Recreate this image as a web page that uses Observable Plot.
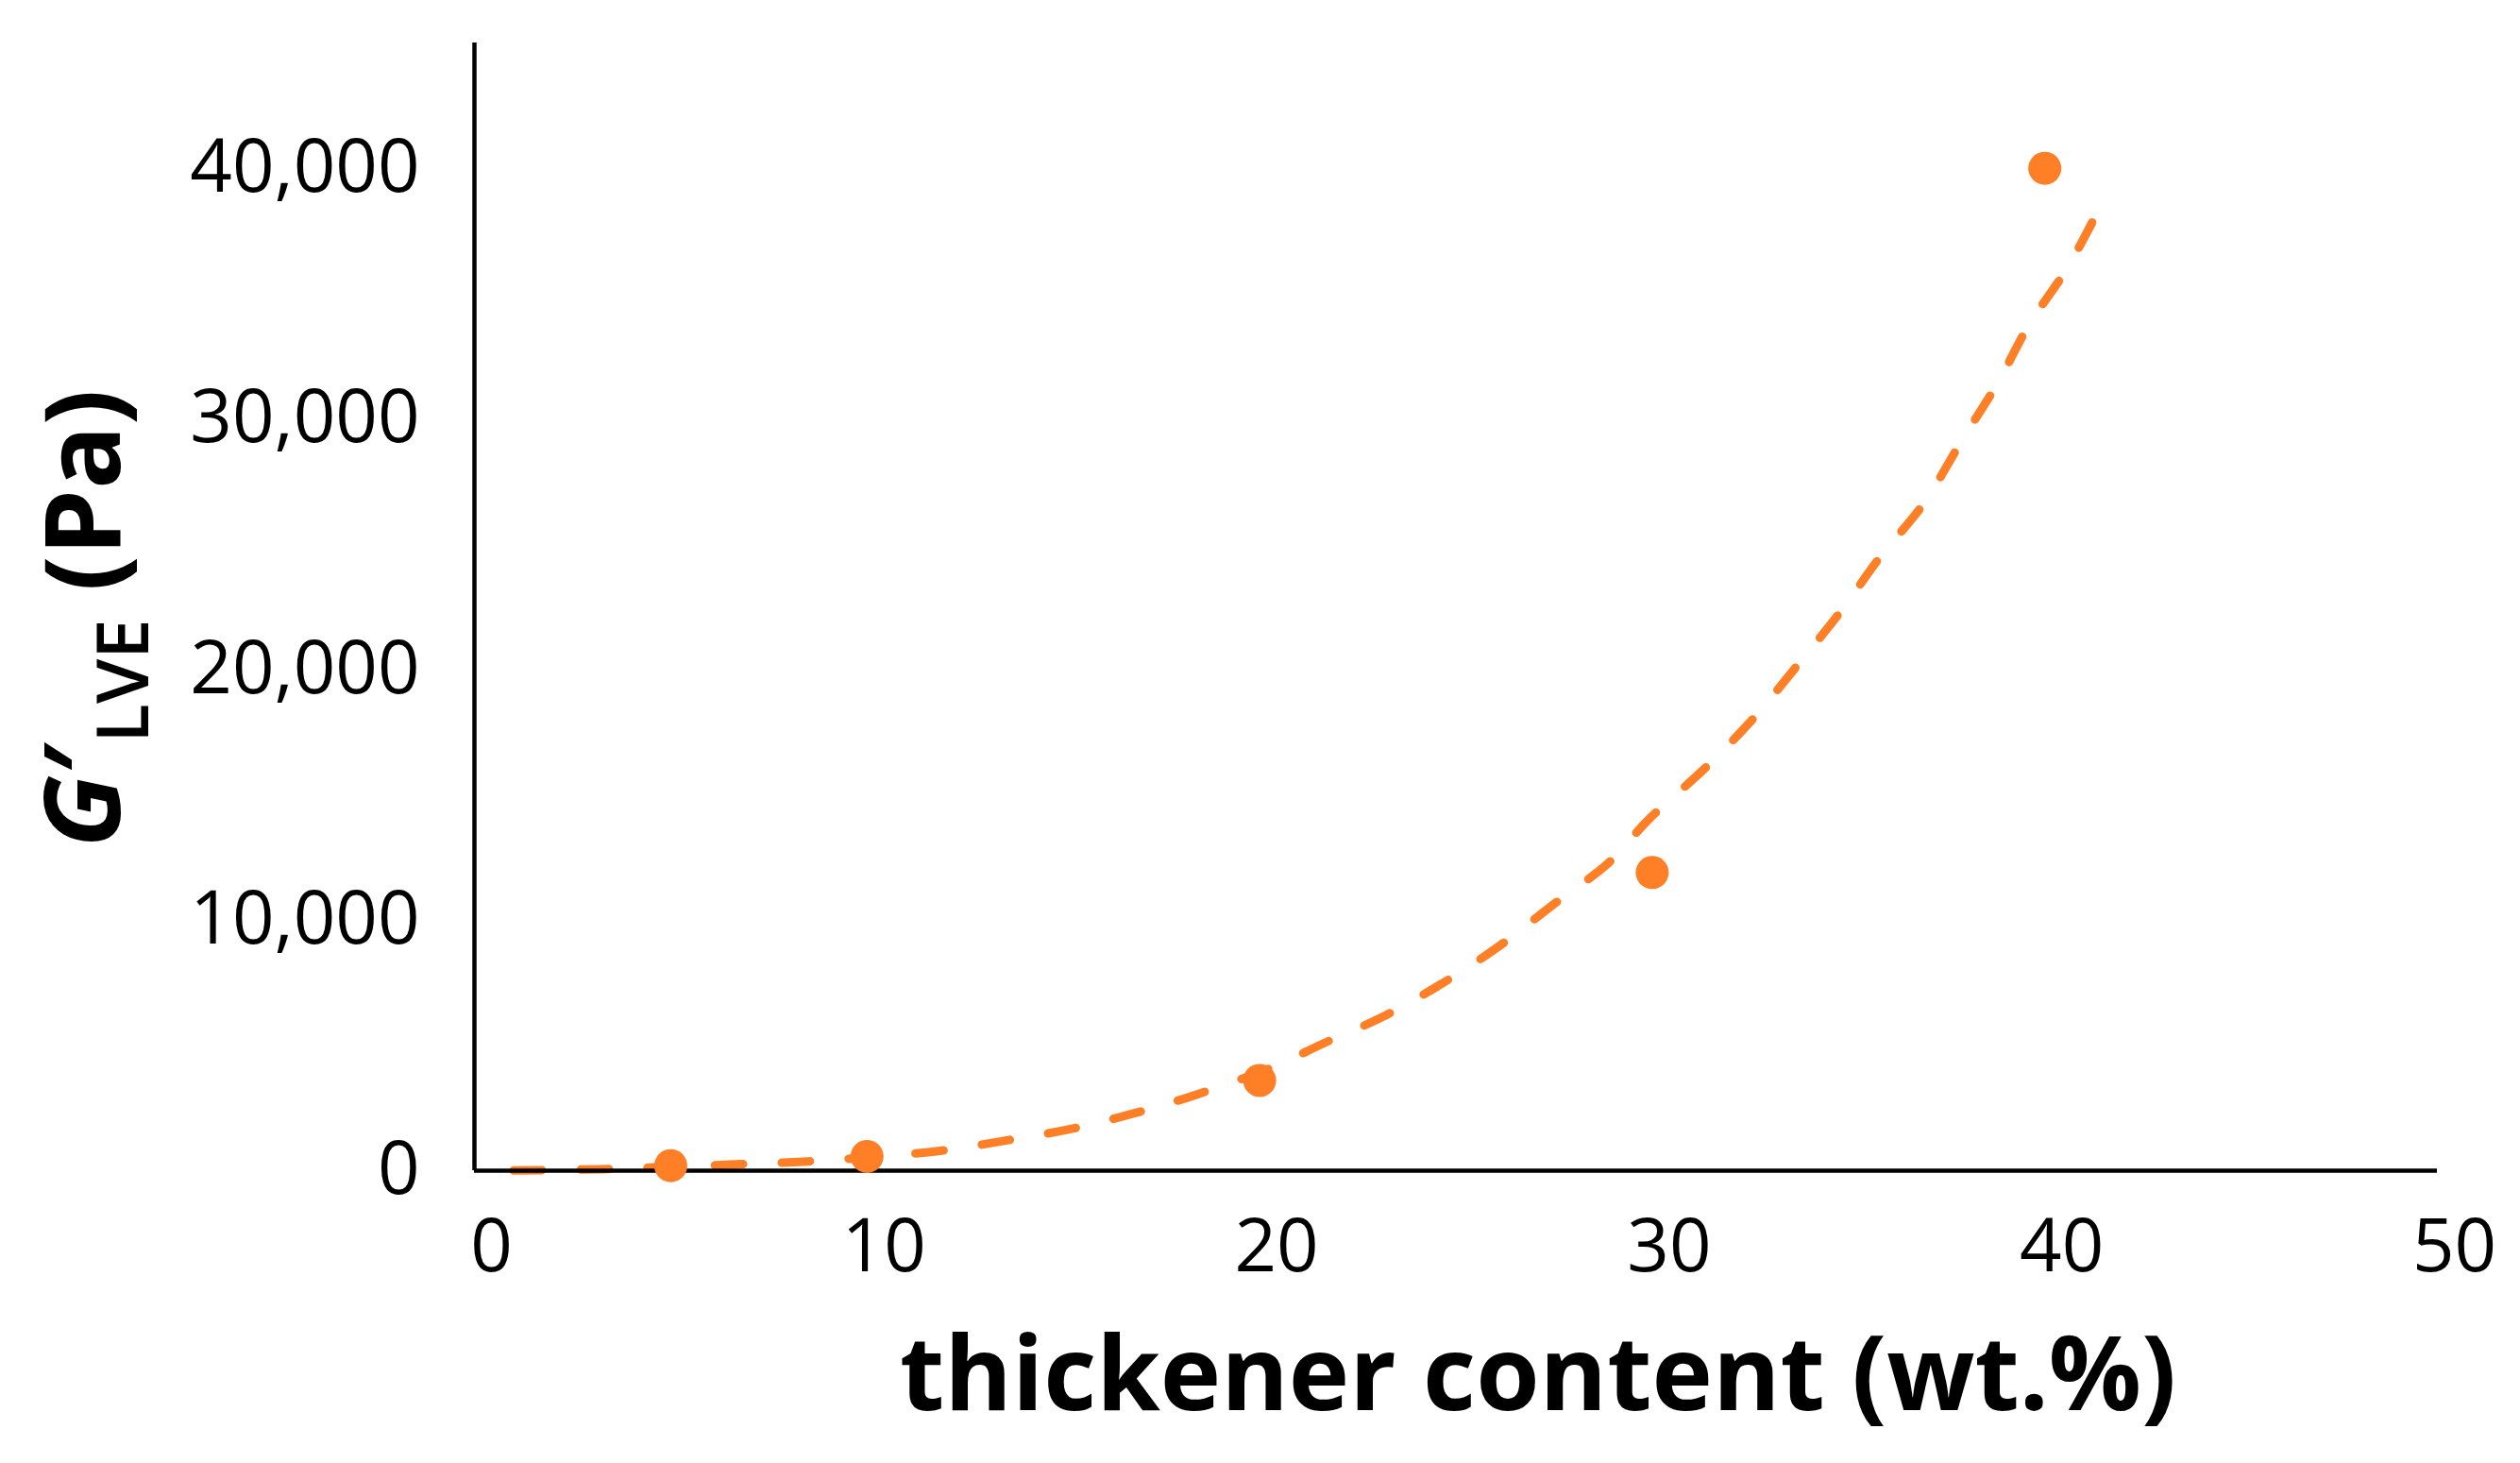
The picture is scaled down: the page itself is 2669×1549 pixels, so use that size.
<!DOCTYPE html>
<html>
<head>
<meta charset="utf-8">
<script src="https://cdn.jsdelivr.net/npm/d3@7"></script>
<script src="https://cdn.jsdelivr.net/npm/@observablehq/plot@0.6"></script>
<style>
  html, body { margin: 0; padding: 0; background: #fff; }
  #chart svg { display: block; }
</style>
</head>
<body>
<div id="chart"></div>
<script>
// Measured data points: thickener content (wt.%) vs G'LVE (Pa)
const content = [5, 10, 20, 30, 40];
const modulus = [200, 570, 3600, 11900, 40000];

// Trendline (dashed curve)
const trendContent = [1.0, 3.2, 6.8, 8.5, 10.5, 12.0, 13.6, 15.3, 16.9, 18.5, 20.4, 21.6, 23.2, 24.7, 26.1, 27.5, 28.9, 29.9, 31.4, 32.6, 33.7, 34.8, 35.8, 36.9, 37.9, 38.8, 39.6, 40.6, 41.6];
const trendModulus = [10, 60, 260, 370, 590, 820, 1220, 1700, 2330, 3090, 4180, 5060, 6190, 7520, 8960, 10640, 12300, 14000, 16140, 18090, 20170, 22310, 24480, 26590, 29170, 31430, 33760, 36090, 39050];

const xTicks = [0, 10, 20, 30, 40, 50];
const yTicks = [0, 10000, 20000, 30000, 40000];

const xTitle = "thickener content (wt.%)";
const yTitleMain = "G";
const yTitlePrime = "\u2032";
const yTitleSub = "LVE";
const yTitleUnit = " (Pa)";

const orange = "#FF7F27";

const points = content.map((c, i) => ({x: c, y: modulus[i]}));
const trend = trendContent.map((c, i) => ({x: c, y: trendModulus[i]}));

const W = 2669, H = 1549;

const chart = Plot.plot({
  width: W,
  height: H,
  marginLeft: 502,
  marginRight: 88,
  marginTop: 45,
  marginBottom: 310,
  style: {fontFamily: "'Open Sans', sans-serif", fontSize: "78px", color: "#000", background: "#fff"},
  x: {domain: [0, 50]},
  y: {domain: [0, 45000]},
  marks: [
    Plot.axisX({ticks: xTicks, tickSize: 0, tickPadding: 51, dx: 18, label: null, fontSize: 78, tickFormat: d => String(d)}),
    Plot.axisY({ticks: yTicks, tickSize: 0, tickPadding: 58, label: null, fontSize: 78, tickFormat: d => d.toLocaleString("en-US")}),
    Plot.line(trend, {x: "x", y: "y", stroke: orange, strokeWidth: 9, strokeDasharray: "30,41", strokeLinecap: "round", curve: "catmull-rom"}),
    Plot.ruleY([0], {stroke: "#000", strokeWidth: 4.5}),
    Plot.ruleX([0], {stroke: "#000", strokeWidth: 4.5}),
    Plot.dot(points, {x: "x", y: "y", r: 17.5, fill: orange, stroke: "none"})
  ]
});

document.getElementById("chart").appendChild(chart);

const svg = d3.select(chart);

// X axis title
svg.append("text")
  .attr("x", 1629)
  .attr("y", 1493)
  .attr("text-anchor", "middle")
  .attr("font-weight", 700)
  .attr("font-size", 109)
  .attr("fill", "#000")
  .text(xTitle);

// Y axis title (rotated)
const yt = svg.append("text")
  .attr("transform", "translate(127,655) rotate(-90)")
  .attr("text-anchor", "middle")
  .attr("font-weight", 700)
  .attr("font-size", 112)
  .attr("fill", "#000");
yt.append("tspan").attr("font-style", "italic").text(yTitleMain);
yt.append("tspan").text(yTitlePrime);
yt.append("tspan").attr("font-size", 76).attr("font-weight", 600).attr("dy", 30).text(yTitleSub);
yt.append("tspan").attr("dy", -30).text(yTitleUnit);
</script>
</body>
</html>
